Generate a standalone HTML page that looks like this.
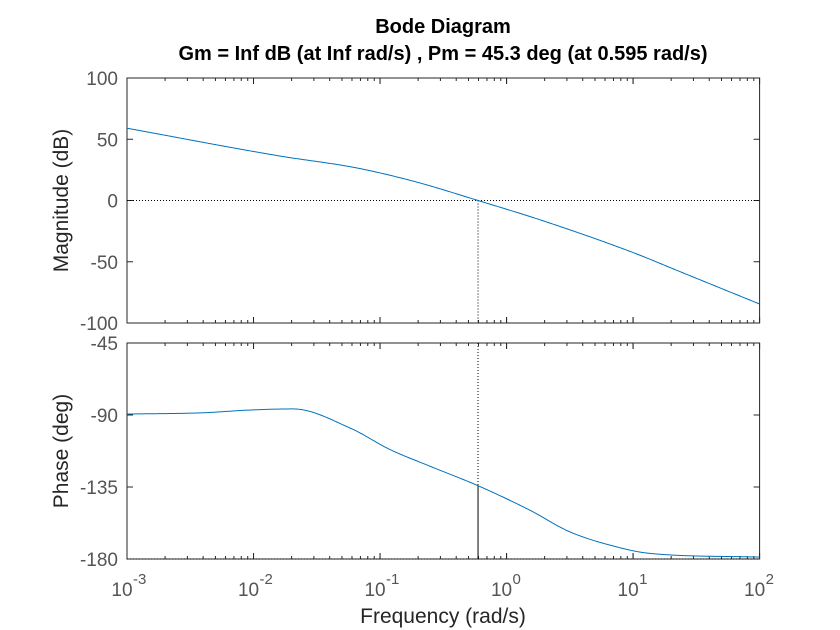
<!DOCTYPE html>
<html><head><meta charset="utf-8"><style>
body{margin:0;background:#fff}
svg{display:block;font-family:"Liberation Sans",Arial,sans-serif}
</style></head><body>
<svg id="c" width="840" height="630"></svg>
<script>
const freqMag=[0.001,0.0162,0.058,0.1,0.207,0.595,2,10,23.4,100];
const magDb=[59,36.3,27.6,22.5,14.3,0,-17,-42.5,-58,-84.5];
const freqPh=[0.001,0.004,0.0093,0.0205,0.0578,0.12,0.248,0.595,1.52,3.16,7.4,13.6,100];
const phaseDeg=[-89.4,-88.6,-86.9,-86.2,-98.1,-111.6,-122,-134.2,-149.4,-163,-172.4,-176.5,-178.8];
const magTicks=[100,50,0,-50,-100];
const phTicks=[-45,-90,-135,-180];
const decades=[-3,-2,-1,0,1,2];
const wc=0.595, pmPhase=-134.2;

const NS="http://www.w3.org/2000/svg", svg=document.getElementById('c');
const X0=127,X1=759.6, M0=78,M1=323, P0=343,P1=559;
const xs=f=>X0+(Math.log10(f)+3)/5*(X1-X0);
const ym=d=>M0+(100-d)/200*(M1-M0);
const yp=d=>P0+(-45-d)/135*(P1-P0);
function el(t,a,txt){const e=document.createElementNS(NS,t);for(const k in a)e.setAttribute(k,a[k]);if(txt!=null)e.textContent=txt;svg.appendChild(e);return e;}
const gray="#262626", lab="#555";

const b1=el('rect',{x:X0,y:M0,width:X1-X0,height:M1-M0,fill:'none',stroke:gray,'stroke-width':1});


const b2=el('rect',{x:X0,y:P0,width:X1-X0,height:P1-P0,fill:'none',stroke:gray,'stroke-width':1});



for(let d=-3;d<2;d++){for(let m=1;m<=10;m++){const x=xs(m*Math.pow(10,d));const L=(m==1||m==10)?6:3;
 for(const [a,b] of [[M0,1],[M1,-1],[P0,1],[P1,-1]]) el('line',{x1:x,x2:x,y1:a,y2:a+b*L,stroke:gray,'stroke-width':1});}}
magTicks.forEach(v=>{const y=ym(v);el('line',{x1:X0,x2:X0+6,y1:y,y2:y,stroke:gray});el('line',{x1:X1,x2:X1-6,y1:y,y2:y,stroke:gray});
 const t=el('text',{x:X0-9,y:y+7,'text-anchor':'end','font-size':19,fill:lab},v);
 
 });
phTicks.forEach(v=>{const y=yp(v);el('line',{x1:X0,x2:X0+6,y1:y,y2:y,stroke:gray});el('line',{x1:X1,x2:X1-6,y1:y,y2:y,stroke:gray});
 const t=el('text',{x:X0-9,y:y+7,'text-anchor':'end','font-size':19,fill:lab},v);
 
 });
decades.forEach(d=>{const x=xs(Math.pow(10,d));
 const t=el('text',{x:x-5,y:596,'text-anchor':'middle','font-size':19,fill:lab},'10');
 
 
 el('text',{x:x+6,y:584,'text-anchor':'start','font-size':15,fill:lab},d);});

el('line',{x1:X0,x2:X1,y1:ym(0),y2:ym(0),stroke:'#000','stroke-dasharray':'1,2'});
el('line',{x1:X0,x2:X1,y1:yp(-180),y2:yp(-180),stroke:'#000','stroke-dasharray':'1,2'});
const xc=xs(wc);
el('line',{x1:xc,x2:xc,y1:ym(0),y2:M1,stroke:'#000','stroke-dasharray':'1,2'});
el('line',{x1:xc,x2:xc,y1:P0,y2:yp(pmPhase),stroke:'#000','stroke-dasharray':'1,2'});
const pm=el('line',{x1:xc,x2:xc,y1:yp(pmPhase),y2:P1,stroke:'#000','stroke-width':1});



// monotone cubic interpolation in log-frequency, sampled densely
function curve(fs,vs,yf){
 const x=fs.map(f=>Math.log10(f)),n=x.length,dl=[],m=[];
 for(let i=0;i<n-1;i++)dl.push((vs[i+1]-vs[i])/(x[i+1]-x[i]));
 m[0]=dl[0];m[n-1]=dl[n-2];
 for(let i=1;i<n-1;i++){m[i]=dl[i-1]*dl[i]<=0?0:(dl[i-1]+dl[i])/2;}
 for(let i=0;i<n-1;i++){if(dl[i]===0){m[i]=m[i+1]=0;continue;}const a=m[i]/dl[i],b=m[i+1]/dl[i],s=a*a+b*b;if(s>9){const t=3/Math.sqrt(s);m[i]=t*a*dl[i];m[i+1]=t*b*dl[i];}}
 let d='';
 for(let k=0;k<=400;k++){const lx=x[0]+(x[n-1]-x[0])*k/400;let i=0;while(i<n-2&&lx>x[i+1])i++;
  const h=x[i+1]-x[i],t=(lx-x[i])/h,t2=t*t,t3=t2*t;
  const v=(2*t3-3*t2+1)*vs[i]+(t3-2*t2+t)*h*m[i]+(-2*t3+3*t2)*vs[i+1]+(t3-t2)*h*m[i+1];
  d+=(k?'L':'M')+xs(Math.pow(10,lx)).toFixed(2)+','+yf(v).toFixed(2);}
 return d;}
const mc=el('path',{d:curve(freqMag,magDb,ym),fill:'none',stroke:'#0072bd','stroke-width':1});


const pc=el('path',{d:curve(freqPh,phaseDeg,yp),fill:'none',stroke:'#0072bd','stroke-width':1});



let t;
t=el('text',{x:443,y:33,'text-anchor':'middle','font-size':20,'font-weight':'bold',fill:'#000'},'Bode Diagram');


t=el('text',{x:443,y:60,'text-anchor':'middle','font-size':20,'font-weight':'bold',fill:'#000'},'Gm = Inf dB (at Inf rad/s) ,  Pm = 45.3 deg (at 0.595 rad/s)');


t=el('text',{x:443,y:623,'text-anchor':'middle','font-size':21,fill:'#262626'},'Frequency  (rad/s)');


t=el('text',{x:0,y:0,'text-anchor':'middle','font-size':21,fill:'#262626',transform:`translate(68,${(M0+M1)/2}) rotate(-90)`},'Magnitude (dB)');


t=el('text',{x:0,y:0,'text-anchor':'middle','font-size':21,fill:'#262626',transform:`translate(68,${(P0+P1)/2}) rotate(-90)`},'Phase (deg)');


</script>
</body></html>
